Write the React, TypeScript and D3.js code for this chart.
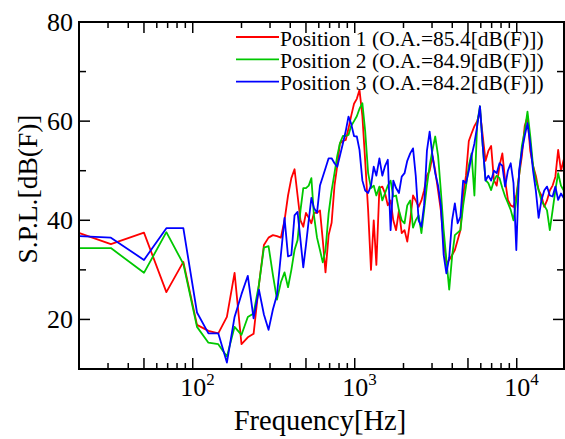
import * as d3 from 'd3';

// frequency bins [Hz] (narrow band below 500 Hz, thinned above)
const freqs = [
  20, 31.25, 50, 68.75, 87.5, 106.25, 125, 143.75, 162.5, 181.25, 200, 218.75, 237.5,
  256.25, 275, 293.75, 312.5, 331.25, 350, 368.75, 387.5, 406.25, 425, 443.75, 462.5, 481.25,
  500, 520, 540, 560, 585, 610, 635, 660, 690, 720, 750, 780, 810, 845, 880, 915, 950, 990,
  1030, 1070, 1115, 1160,
  1210, 1260, 1310, 1360, 1420, 1480, 1540, 1600, 1665, 1730, 1800, 1875, 1950, 2030, 2110,
  2200, 2290, 2380, 2480, 2580, 2680, 2790, 2900, 3020, 3140, 3270, 3400, 3540, 3680, 3830,
  3990, 4150, 4320, 4490, 4670, 4860, 5060, 5260, 5480, 5700, 5930, 6170, 6420, 6680, 6950,
  7230, 7520, 7830, 8150, 8480, 8820, 9180, 9550, 9940, 10340, 10760, 11200, 11650, 12120,
  12610, 13120, 13650, 14200, 14780, 15380, 16000, 16650, 17320, 18020, 18750, 19500, 20000,
];

// S.P.L. [dB(F)] per position
const pos1 = [
  37.4, 35.2, 37.5, 25.5, 31.6, 18.9, 17.7, 17.2, 20.5, 29.4, 15.0, 16.4, 17.1,
  27, 35, 36.5, 37, 36.8, 36.5, 40, 45, 48.5, 50.3, 45, 40, 38.7,
  41.5, 40.5, 39.4, 41.5, 41.5, 42, 36, 29.5, 37, 39.5, 47, 51, 55.5, 56, 56.2, 58.5, 61, 63.5,
  64.5, 66.3, 61, 52,
  42, 30, 40, 31, 46.5, 46.8, 45.4, 43, 44, 40, 38, 42, 37.4, 38, 35.7,
  40, 45, 44, 42.7, 44, 46, 49, 50, 53, 50, 46, 42, 36, 31.3, 32,
  33, 34, 36, 38, 45, 49, 56, 57.5, 59, 60, 62, 57, 52, 54, 55,
  48.1, 47, 51, 53.5, 48, 44.1, 43, 42.7, 45, 49, 53, 59, 60.9, 54,
  51, 49, 46.1, 45, 42.7, 44, 46, 47, 48.8, 54.2, 50, 52.2, 50,
];

const pos2 = [
  34.4, 34.4, 29.4, 37.6, 31.2, 18.5, 15.3, 15.0, 12.5, 18.5, 16.9, 20.5, 21.2,
  27, 34.5, 34.8, 29, 24, 27.5, 29.5, 26.5, 30, 34, 36, 42, 46.5,
  46.5, 47, 48.5, 41, 36.5, 34, 31.5, 34, 41.4, 46, 49.5, 53, 55.5, 57, 57, 57.2, 59, 60,
  61, 62.5, 63.6, 58,
  49.5, 46.5, 47, 45, 46.8, 44, 45.5, 47, 48, 44.8, 45, 42, 40, 39.4, 43,
  44, 38.5, 40, 41, 37.4, 42, 47, 51, 54.2, 56.9, 53, 46, 38, 32, 26,
  32.7, 37, 37.5, 38, 43, 46.8, 51, 53.5, 45, 59.6, 63, 55, 48.1, 47.5, 46.1,
  48, 49, 48.5, 46.5, 44.8, 43.5, 42.1, 40, 44, 49, 55, 58, 61.9, 57,
  51, 48, 46.1, 44, 43, 42, 38, 42, 46.1, 49.5, 47, 46, 31,
];

const pos3 = [
  36.8, 36.5, 32, 38.4, 38.4, 21.4, 17.2, 17.2, 11.3, 20.5, 25.1, 28.8, 20.2,
  26, 21, 17.9, 22, 25, 33, 40.5, 32.7, 33, 41, 41.7, 36, 30.5,
  35, 40, 44.5, 42.5, 41.5, 47, 48.8, 50.5, 52.5, 52.5, 51.5, 50.8, 53, 55.5, 58, 60.9, 59.5, 57,
  56.9, 54.2, 48, 46,
  45.5, 47, 50.8, 49, 52.5, 49, 51, 52.2, 38, 48, 46.5, 45.5, 48.8, 49.5, 52,
  53.5, 54.5, 49, 40, 38.7, 43, 54, 57.9, 53, 49.5, 47, 43, 33, 29.3, 32.5,
  40, 43.4, 39.4, 40.7, 48, 47.5, 50, 53, 55.5, 59, 63, 55, 48, 49, 48,
  50, 49.5, 51.5, 51, 46.8, 50, 51.5, 47.5, 34, 50, 54, 57, 59.6, 55.5,
  50, 46, 40.5, 44, 46, 46.8, 45, 44.8, 46.8, 44.1, 45.4, 44.5, 46,
];

const seriesNames = [
  'Position 1 (O.A.=85.4[dB(F)])',
  'Position 2 (O.A.=84.9[dB(F)])',
  'Position 3 (O.A.=84.2[dB(F)])',
];
const seriesColors = ['#ff0000', '#00c800', '#0000ff'];

const yMajor = [20, 40, 60, 80];
const yMinor = [30, 50, 70];
const xDecades = [2, 3, 4];

const txt = { fontFamily: 'Liberation Serif' };

export default function App() {
  const width = 565;
  const height = 439;
  const left = 79, right = 564, top = 22, bottom = 369;

  const x = d3.scaleLog().domain([20, 20000]).range([79.5, 565.5]);
  const y = d3.scaleLinear().domain([10, 80]).range([bottom, top]);

  const line = d3.line<number>()
    .x((_, i) => x(freqs[i]))
    .y(d => y(d));

  const series = [pos1, pos2, pos3];

  // log ticks from d3; 1x and 5x decades get the long ones
  const xTicks = x.ticks().filter(t => t > 20 && t < 20000);
  const isLong = (t: number) => {
    const lead = Math.round(t / Math.pow(10, Math.floor(Math.log10(t) + 1e-9)));
    return lead === 1 || lead === 5;
  };

  return (
    <svg width={width} height={height}
      style={{ position: 'absolute', left: 0, top: 0, background: '#fff' }}>
      <defs>
        <clipPath id="plot">
          <rect x={left} y={top} width={right - left} height={bottom - top} />
        </clipPath>
      </defs>

      {/* curves */}
      <g clipPath="url(#plot)">
        {series.map((s, i) => (
          <path key={i} d={line(s) || ''} fill="none" stroke={seriesColors[i]}
            strokeWidth={1.8} strokeLinejoin="round" />
        ))}
      </g>

      {/* frame */}
      <rect x={left} y={top} width={right - left} height={bottom - top}
        fill="none" stroke="#000" strokeWidth={2} />

      {/* x ticks, bottom + top, inward */}
      {xTicks.map(t => {
        const len = isLong(t) ? 11 : 6;
        const xp = x(t);
        return (
          <g key={t} stroke="#000" strokeWidth={1.5}>
            <line x1={xp} x2={xp} y1={bottom} y2={bottom - len} />
            <line x1={xp} x2={xp} y1={top} y2={top + len} />
          </g>
        );
      })}

      {/* y ticks, left + right */}
      {[...yMajor, ...yMinor].map(v => {
        const len = yMajor.includes(v) ? 11 : 7;
        const yp = y(v);
        return (
          <g key={v} stroke="#000" strokeWidth={1.5}>
            <line x1={left} x2={left + len} y1={yp} y2={yp} />
            <line x1={right} x2={right - len} y1={yp} y2={yp} />
          </g>
        );
      })}

      {/* y tick labels */}
      {yMajor.map(v => (
        <text key={v} x={73} y={y(v) + 9} textAnchor="end" fontSize={26} fill="#000" style={txt}>{v}</text>
      ))}

      {/* x tick labels 10^n */}
      {xDecades.map(e => (
        <text key={e} x={x(Math.pow(10, e)) - 12.5} y={396} fontSize={26} fill="#000" style={txt}>
          10<tspan fontSize={17} dy={-11}>{e}</tspan>
        </text>
      ))}

      {/* axis titles */}
      <text x={320} y={430} textAnchor="middle" fontSize={28.5} fill="#000" style={txt}>Frequency[Hz]</text>
      <text transform="translate(37,189) rotate(-90)" textAnchor="middle" fontSize={27.5} fill="#000" style={txt}>
        S.P.L.[dB(F)]
      </text>

      {/* legend */}
      {seriesNames.map((name, i) => {
        const base = 45.5 + i * 22.3;
        return (
          <g key={name}>
            <line x1={236} x2={279} y1={base - 8.5} y2={base - 8.5} stroke={seriesColors[i]} strokeWidth={1.8} />
            <text x={280} y={base} fontSize={21.5} fill="#000" style={txt}>{name}</text>
          </g>
        );
      })}
    </svg>
  );
}
